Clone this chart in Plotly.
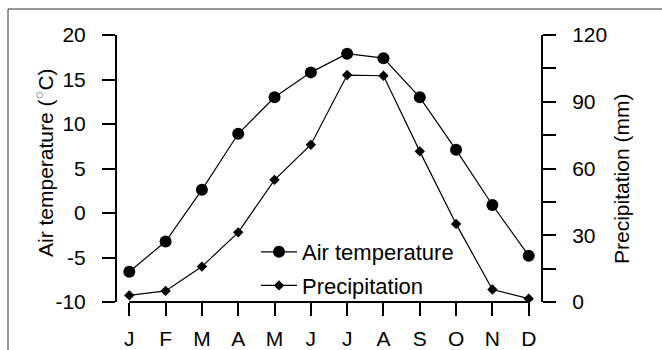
import plotly.graph_objects as go

# ---- data ----
months = ["J", "F", "M", "A", "M", "J", "J", "A", "S", "O", "N", "D"]
month_pos = list(range(1, 13))
air_temperature = [-6.6, -3.2, 2.6, 8.9, 13.0, 15.8, 17.9, 17.4, 13.0, 7.1, 0.9, -4.8]
precipitation = [3.0, 5.0, 15.9, 31.3, 54.9, 70.7, 102.0, 101.7, 67.7, 35.1, 5.6, 1.5]
temp_ticks = [-10, -5, 0, 5, 10, 15, 20]
temp_ticklabels = ["-10", "-5", "0", "5", "10", "15", "20"]
precip_ticks = [0, 30, 60, 90, 120]
precip_minor_step = 15

# ---- layout geometry (pixels) ----
W, H = 662, 350
ML, MR, MT, MB = 116, 120, 35, 48
PW, PH = W - ML - MR, H - MT - MB


def px_x(px):
    return (px - ML) / PW


def px_y(py):
    return (H - MB - py) / PH


FONT = "Liberation Sans, Arial, Helvetica, sans-serif"
BLACK = "#000000"

fig = go.Figure()
fig.add_trace(go.Scatter(
    x=month_pos, y=air_temperature, name="Air temperature",
    mode="lines+markers", yaxis="y", cliponaxis=False,
    line=dict(color=BLACK, width=1.2),
    marker=dict(symbol="circle", size=12, color=BLACK),
    legendgroup="a",
))
fig.add_trace(go.Scatter(
    x=month_pos, y=precipitation, name="Precipitation",
    mode="lines+markers", yaxis="y2", cliponaxis=False,
    line=dict(color=BLACK, width=1.2),
    marker=dict(symbol="diamond", size=8, color=BLACK),
    legendgroup="b",
))

x_pad = 0.366
fig.update_layout(
    width=W, height=H,
    margin=dict(l=ML, r=MR, t=MT, b=MB, pad=0, autoexpand=False),
    paper_bgcolor="white", plot_bgcolor="white",
    font=dict(family=FONT, size=21, color=BLACK),
    showlegend=True,
    legend=dict(
        x=px_x(256), y=px_y(231), xanchor="left", yanchor="top",
        bgcolor="rgba(0,0,0,0)", borderwidth=0,
        font=dict(family=FONT, size=22, color=BLACK),
        tracegroupgap=2, itemwidth=36,
    ),
    xaxis=dict(
        range=[month_pos[0] - x_pad, month_pos[-1] + x_pad],
        tickmode="array", tickvals=month_pos, ticktext=months,
        ticks="outside", ticklen=13, tickwidth=2, tickcolor=BLACK,
        showline=False, showgrid=False, zeroline=False, automargin=False,
        tickfont=dict(size=21), ticklabelstandoff=5,
    ),
    yaxis=dict(
        range=[temp_ticks[0], temp_ticks[-1]],
        tickmode="array", tickvals=temp_ticks, ticktext=temp_ticklabels,
        ticks="outside", ticklen=13, tickwidth=2, tickcolor=BLACK,
        showline=False, showgrid=False, zeroline=False, automargin=False,
        tickfont=dict(size=21), ticklabelstandoff=12,
    ),
    yaxis2=dict(
        range=[precip_ticks[0], precip_ticks[-1]],
        overlaying="y", side="right",
        tickmode="array", tickvals=precip_ticks,
        ticks="outside", ticklen=13, tickwidth=2, tickcolor=BLACK,
        minor=dict(tickmode="linear", tick0=precip_ticks[0], dtick=precip_minor_step,
                   ticks="outside", ticklen=13, tickwidth=2, tickcolor=BLACK, showgrid=False),
        showline=False, showgrid=False, zeroline=False, automargin=False,
        tickfont=dict(size=21), ticklabelstandoff=12,
    ),
)

# R-style axis lines spanning first..last tick
shapes = [
    dict(type="line", xref="x", yref="paper", x0=month_pos[0], x1=month_pos[-1], y0=0, y1=0,
         line=dict(color=BLACK, width=2)),
    dict(type="line", xref="paper", yref="y", x0=0, x1=0, y0=temp_ticks[0], y1=temp_ticks[-1],
         line=dict(color=BLACK, width=2)),
    dict(type="line", xref="paper", yref="y2", x0=1, x1=1, y0=precip_ticks[0], y1=precip_ticks[-1],
         line=dict(color=BLACK, width=2)),
    # figure frame (top and left)
    dict(type="line", xref="paper", yref="paper", x0=px_x(8), x1=px_x(W + 5), y0=px_y(9), y1=px_y(9),
         line=dict(color="#333333", width=1)),
    dict(type="line", xref="paper", yref="paper", x0=px_x(8), x1=px_x(8), y0=px_y(9), y1=px_y(H + 5),
         line=dict(color="#333333", width=1)),
]
fig.update_layout(shapes=shapes)

fig.add_annotation(
    text="Air temperature (<sup><span style='color:#777'>○</span></sup>C)",
    xref="paper", yref="paper", x=px_x(44), y=px_y(163),
    xanchor="center", yanchor="middle", textangle=-90, showarrow=False,
    font=dict(family=FONT, size=21, color=BLACK),
)
fig.add_annotation(
    text="Precipitation (mm)",
    xref="paper", yref="paper", x=px_x(621), y=px_y(179),
    xanchor="center", yanchor="middle", textangle=-90, showarrow=False,
    font=dict(family=FONT, size=21, color=BLACK),
)

fig.write_html("out.html")
